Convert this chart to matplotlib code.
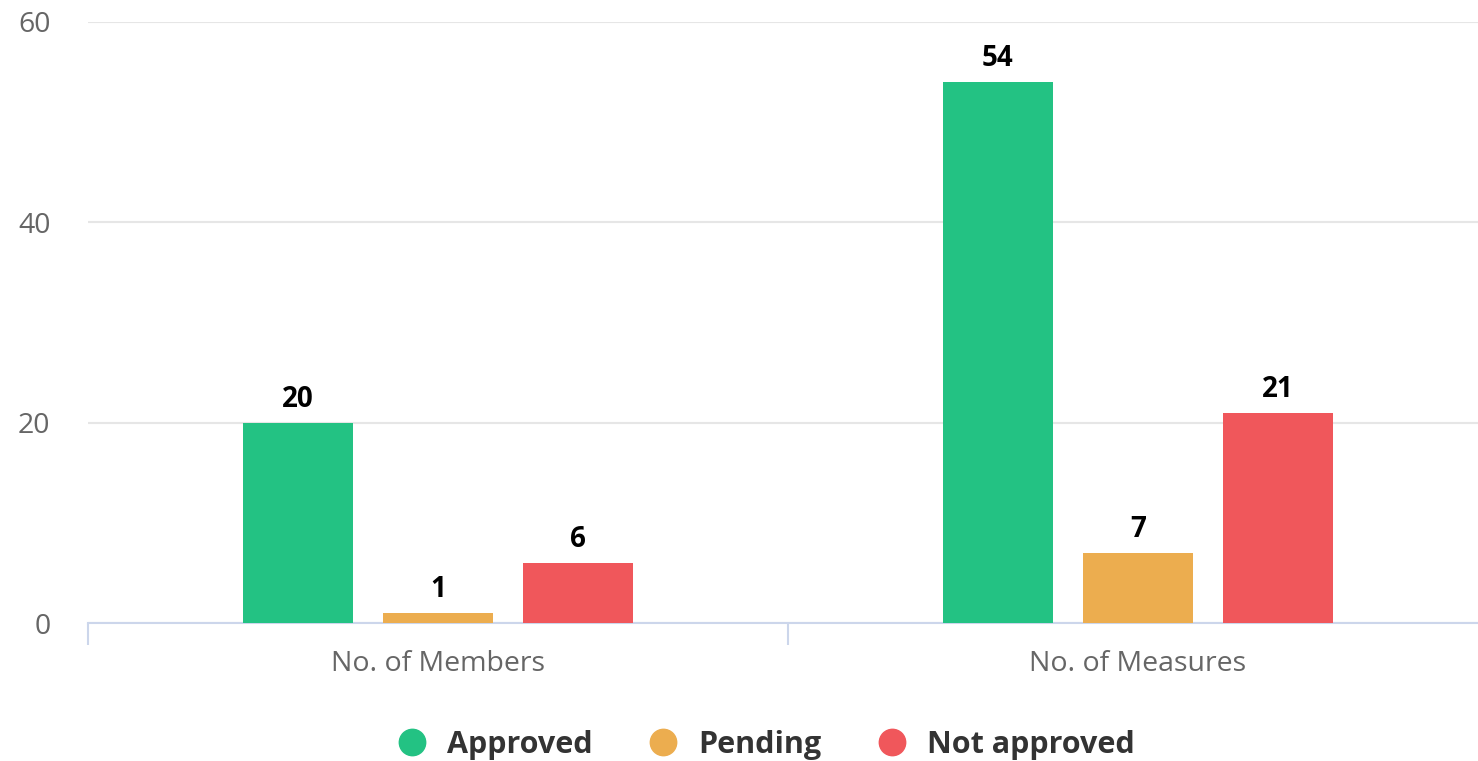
import matplotlib.pyplot as plt
from matplotlib.lines import Line2D
import numpy as np

plt.rcParams['font.family'] = ['Open Sans', 'DejaVu Sans']

categories = ['No. of Members', 'No. of Measures']
series = ['Approved', 'Pending', 'Not approved']
approved = [20, 54]
pending = [1, 7]
not_approved = [6, 21]
colors = ['#23c283', '#ecad4f', '#f0575b']

values = [approved, pending, not_approved]

fig = plt.figure(figsize=(14.78, 7.61), dpi=100)
ax = fig.add_axes([88 / 1478, 1 - 623 / 761, 1 - 88 / 1478, (623 - 22) / 761])

x = np.arange(len(categories))
width = 0.158
offsets = [-0.2, 0.0, 0.2]

for vals, off, col, name in zip(values, offsets, colors, series):
    bars = ax.bar(x + off, vals, width=width, color=col, label=name, zorder=3)
    for b, v in zip(bars, vals):
        ax.annotate(f'{v}', (b.get_x() + b.get_width() / 2, v),
                    xytext=(0, 6.5), textcoords='offset points',
                    ha='center', va='bottom', fontsize=20, fontweight='bold',
                    color='black')

ax.set_yticks([0, 20, 40, 60])
ax.yaxis.grid(True, color='#e6e6e6', linewidth=1.5, zorder=0)
ax.set_axisbelow(True)

for s in ['top', 'right', 'left']:
    ax.spines[s].set_visible(False)
ax.spines['bottom'].set_color('#ccd6eb')
ax.spines['bottom'].set_linewidth(1.5)

ax.set_xticks(x)
ax.set_xticklabels(categories)
ax.set_xticks([-0.5, 0.5, 1.5], minor=True)
ax.tick_params(axis='x', which='major', length=0, pad=19.5, labelsize=20.5, labelcolor='#666666')
ax.tick_params(axis='x', which='minor', length=16, width=1.5, color='#ccd6eb')
ax.tick_params(axis='y', length=0, pad=27, labelsize=20.5, labelcolor='#666666')

ax.set_xlim(-0.5, 1.486)
ax.set_ylim(0, 60)

handles = [Line2D([0], [0], marker='o', linestyle='', markersize=19,
                  markerfacecolor=c, markeredgecolor=c, label=n)
           for c, n in zip(colors, series)]
leg = fig.legend(handles=handles, loc='center', bbox_to_anchor=(758 / 1478, 1 - 745 / 761),
                 ncol=3, frameon=False, fontsize=22, handletextpad=0.15,
                 columnspacing=1.3)
for t in leg.get_texts():
    t.set_fontweight('bold')
    t.set_color('#333333')

plt.savefig('out.png', dpi=100)
